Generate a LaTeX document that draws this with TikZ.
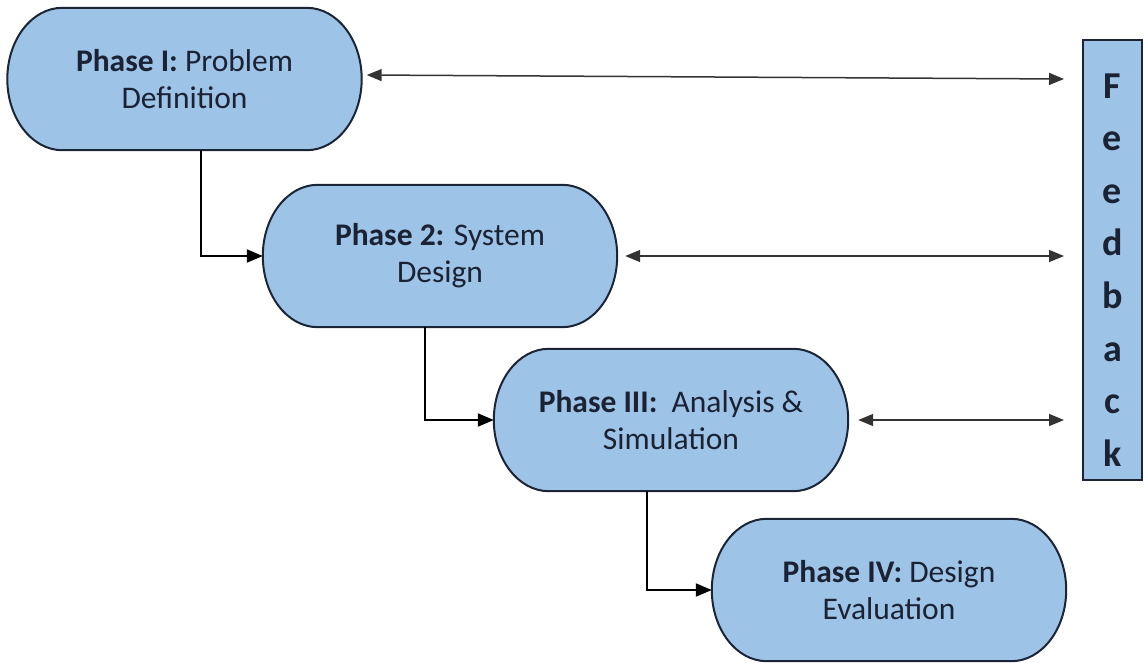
\documentclass[tikz,border=0pt]{standalone}
\usepackage{fontspec}
\setmainfont{Carlito}
\usetikzlibrary{arrows.meta,calc,backgrounds}

\definecolor{boxfill}{HTML}{9DC3E6}
\definecolor{boxline}{HTML}{1B2536}
\definecolor{textcol}{HTML}{1A2233}

\tikzset{
  phase/.style={draw=none, minimum width=354pt, minimum height=142pt,
    align=center, text=textcol, font=\fontsize{31.5}{37}\selectfont, inner sep=0pt},
  termfill/.style={fill=boxfill, draw=boxline, line width=2pt},
  conn/.style={draw=black, line width=2pt, -{Triangle[length=16pt,width=13pt]}},
  fbarrow/.style={draw=black!80, line width=1.5pt,
    {Triangle[length=15pt,width=12pt]}-{Triangle[length=15pt,width=12pt]}},
  fbbox/.style={draw=boxline, fill=boxfill, line width=2pt, minimum width=59pt,
    minimum height=440pt, inner sep=0pt},
  fbletter/.style={anchor=base, inner sep=0pt, text=textcol,
    font=\fontsize{38}{46}\selectfont\bfseries}
}

% terminator outline with elliptical ends, drawn behind a named node
\newcommand\termshape[1]{%
  \begin{scope}[on background layer]
    \path[termfill] let \p1=(#1.north west), \p2=(#1.south east),
      \n1={55pt}, \n2={(\y1-\y2)/2} in
      (\x1+\n1,\y1) -- (\x2-\n1,\y1)
      arc[start angle=90, end angle=-90, x radius=\n1, y radius=\n2]
      -- (\x1+\n1,\y2)
      arc[start angle=270, end angle=90, x radius=\n1, y radius=\n2] -- cycle;
  \end{scope}}

\begin{document}
\begin{tikzpicture}[x=1pt, y=-1pt]
  \useasboundingbox (0,0) rectangle (1145,662);

  \node[phase] (p1) at (184.5,79) {\textbf{Phase I:} Problem\\Definition};
  \node[phase] (p2) at (440,256) {\textbf{Phase 2:} System\\Design};
  \node[phase] (p3) at (671,420) {\textbf{Phase III:}\ \ Analysis \&\\Simulation};
  \node[phase] (p4) at (889,590) {\textbf{Phase IV:} Design\\Evaluation};
  \termshape{p1}
  \termshape{p2}
  \termshape{p3}
  \termshape{p4}

  \node[fbbox] (fb) at (1112.5,260) {};
  \foreach \letter [count=\i from 0] in {F,e,e,d,b,a,c,k}
    \node[fbletter] (fb\i) at (1112.5,98+52.6*\i) {\letter};

  % phase-to-phase flow
  \draw[conn] ([xshift=16.5pt]p1.south) |- (p2.west);
  \draw[conn] ([xshift=-15pt]p2.south) |- (p3.west);
  \draw[conn] ([xshift=-24pt]p3.south) |- (p4.west);

  % feedback links
  \draw[fbarrow] ([xshift=5pt,yshift=4pt]p1.east) -- ([xshift=-18pt]p1.east -| fb.west);
  \draw[fbarrow] ([xshift=8pt]p2.east) -- ([xshift=-18pt]p2.east -| fb.west);
  \draw[fbarrow] ([xshift=10pt]p3.east) -- ([xshift=-18pt]p3.east -| fb.west);
\end{tikzpicture}
\end{document}
